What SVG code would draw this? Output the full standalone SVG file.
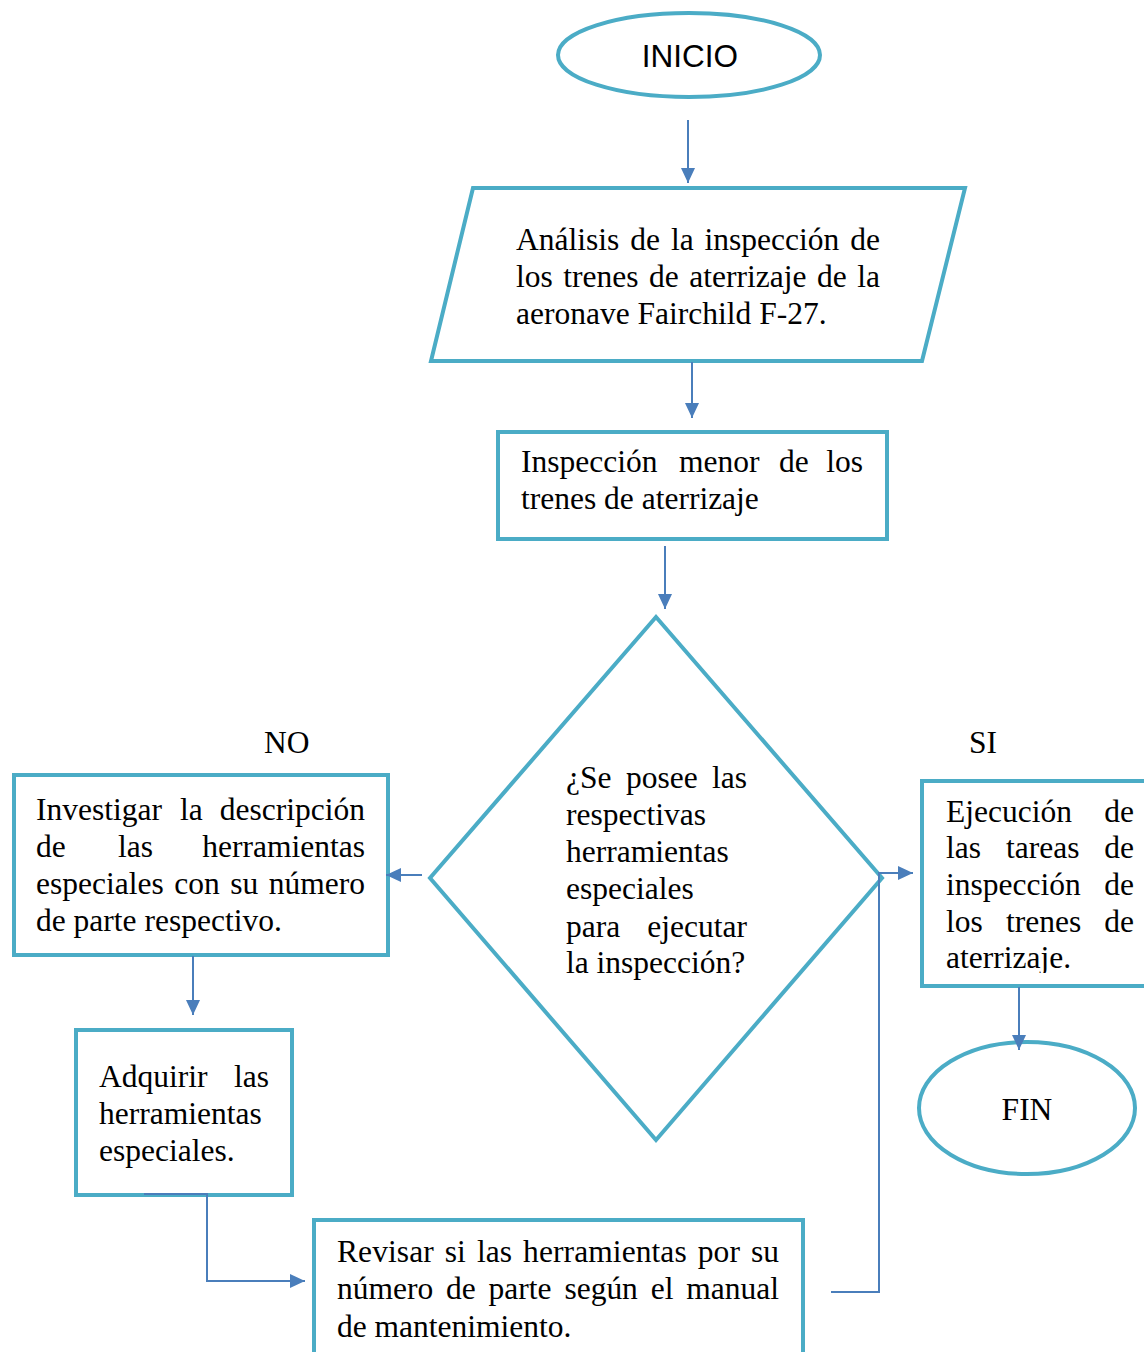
<svg xmlns="http://www.w3.org/2000/svg" width="1144" height="1352" viewBox="0 0 1144 1352">
<style>
.shape{fill:#fff;stroke:#4BACC6;stroke-width:4;stroke-linejoin:miter}
.conn{fill:none;stroke:#4A7EBB;stroke-width:2}
.t{font-family:"Liberation Serif","Times New Roman",serif;font-size:31.5px;fill:#000}
.s{font-family:"Liberation Sans",Arial,sans-serif;font-size:31.5px;fill:#000}
</style>
<defs>
<marker id="arr" markerUnits="userSpaceOnUse" markerWidth="16" markerHeight="14" refX="15" refY="7" orient="auto">
<path d="M0,0 L15,7 L0,14 Z" fill="#4A7EBB"/>
</marker>
<clipPath id="clipE"><rect x="924" y="783" width="230" height="190"/></clipPath>
</defs>
<rect width="1144" height="1352" fill="#fff"/>

<g id="inicio">
<ellipse class="shape" cx="689" cy="55" rx="131" ry="42"/>
<text class="s" x="690" y="67" text-anchor="middle">INICIO</text>
</g>

<g id="analisis">
<polygon class="shape" points="473,188 965,188 922,361 431,361"/>
<text class="t" x="516" y="250" word-spacing="3" textLength="364" lengthAdjust="spacing">Análisis de la inspección de</text>
<text class="t" x="516" y="287" word-spacing="2.6" textLength="364" lengthAdjust="spacing">los trenes de aterrizaje de la</text>
<text class="t" x="516" y="324">aeronave Fairchild F-27.</text>
</g>

<g id="inspeccion">
<rect class="shape" x="498" y="432" width="389" height="107"/>
<text class="t" y="472"><tspan x="521">Inspección</tspan><tspan x="679">menor</tspan><tspan x="779">de</tspan><tspan x="863" text-anchor="end">los</tspan></text>
<text class="t" x="521" y="509">trenes de aterrizaje</text>
</g>

<g id="decision">
<polygon class="shape" points="656,617 882,878 656,1140 430,878"/>
<text class="t" y="788"><tspan x="566">¿Se</tspan><tspan x="626">posee</tspan><tspan x="747" text-anchor="end">las</tspan></text>
<text class="t" x="566" y="825">respectivas</text>
<text class="t" x="566" y="862">herramientas</text>
<text class="t" x="566" y="899">especiales</text>
<text class="t" y="937"><tspan x="566">para</tspan><tspan x="747" text-anchor="end">ejecutar</tspan></text>
<text class="t" x="566" y="973">la inspección?</text>
</g>

<g id="label-no">
<text class="t" x="264" y="753">NO</text>
</g>
<g id="label-si">
<text class="t" x="969" y="753">SI</text>
</g>

<g id="investigar">
<rect class="shape" x="14" y="775" width="374" height="180"/>
<text class="t" y="820"><tspan x="36">Investigar</tspan><tspan x="180">la</tspan><tspan x="365" text-anchor="end">descripción</tspan></text>
<text class="t" y="857"><tspan x="36">de</tspan><tspan x="118">las</tspan><tspan x="365" text-anchor="end">herramientas</tspan></text>
<text class="t" x="36" y="894" word-spacing="2.7" textLength="329" lengthAdjust="spacing">especiales con su número</text>
<text class="t" x="36" y="931">de parte respectivo.</text>
</g>

<g id="adquirir">
<rect class="shape" x="76" y="1030" width="216" height="165"/>
<text class="t" y="1087"><tspan x="99">Adquirir</tspan><tspan x="269" text-anchor="end">las</tspan></text>
<text class="t" x="99" y="1124">herramientas</text>
<text class="t" x="99" y="1161">especiales.</text>
</g>

<g id="revisar">
<rect class="shape" x="314" y="1220" width="489" height="150"/>
<text class="t" x="337" y="1262" word-spacing="3" textLength="442" lengthAdjust="spacing">Revisar si las herramientas por su</text>
<text class="t" x="337" y="1299" word-spacing="5" textLength="442" lengthAdjust="spacing">número de parte según el manual</text>
<text class="t" x="337" y="1337">de mantenimiento.</text>
</g>

<g id="ejecucion">
<rect class="shape" x="922" y="781" width="240" height="205"/>
<g clip-path="url(#clipE)">
<text class="t" y="822"><tspan x="946">Ejecución</tspan><tspan x="1134" text-anchor="end">de</tspan></text>
<text class="t" y="858"><tspan x="946">las</tspan><tspan x="1006">tareas</tspan><tspan x="1134" text-anchor="end">de</tspan></text>
<text class="t" y="895"><tspan x="946">inspección</tspan><tspan x="1134" text-anchor="end">de</tspan></text>
<text class="t" y="932"><tspan x="946">los</tspan><tspan x="1006">trenes</tspan><tspan x="1134" text-anchor="end">de</tspan></text>
<text class="t" x="946" y="968">aterrizaje.</text>
</g>
</g>

<g id="fin">
<ellipse class="shape" cx="1027" cy="1108" rx="108" ry="66"/>
<text class="t" x="1027" y="1120" text-anchor="middle">FIN</text>
</g>

<g id="connectors">
<path class="conn" d="M688,120 V183" marker-end="url(#arr)"/>
<path class="conn" d="M692,362 V418" marker-end="url(#arr)"/>
<path class="conn" d="M665,546 V609" marker-end="url(#arr)"/>
<path class="conn" d="M422,875 H386" marker-end="url(#arr)"/>
<path class="conn" d="M193,956 V1015" marker-end="url(#arr)"/>
<path class="conn" d="M144,1194 H207 V1281 H305" marker-end="url(#arr)"/>
<path class="conn" d="M831,1292 H879 V873 H913" marker-end="url(#arr)"/>
<path class="conn" d="M1019,987 V1050" marker-end="url(#arr)"/>
</g>
</svg>
